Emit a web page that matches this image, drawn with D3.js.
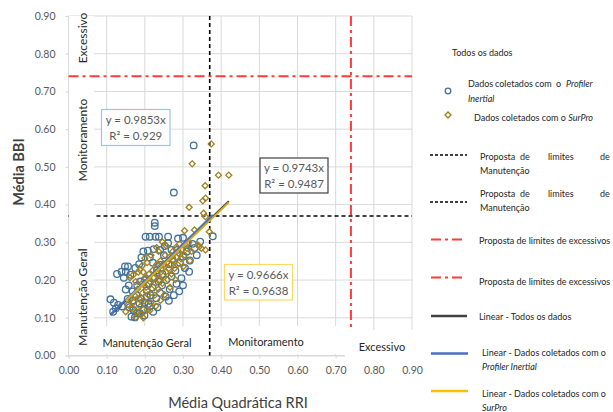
<!DOCTYPE html>
<html>
<head>
<meta charset="utf-8">
<script src="https://cdn.jsdelivr.net/npm/d3@7"></script>
<style>
  html, body { margin: 0; padding: 0; background: #fff; }
  svg { display: block; font-family: Lato, "Open Sans", sans-serif; }
</style>
</head>
<body>
<svg id="chart" width="613" height="412"></svg>
<script>
// Profiler Inertial measurements: RRI quadratic mean vs mean BBI
const profilerRRI = [0.110,0.119,0.130,0.117,0.124,0.140,0.155,0.165,0.174,0.180,0.170,0.160,0.187,0.196,0.213,0.200,0.190,0.178,0.168,0.150,0.158,0.210,0.215,0.205,0.220,0.230,0.240,0.245,0.255,0.256,0.265,0.270,0.283,0.280,0.290,0.292,0.296,0.300,0.305,0.310,0.318,0.325,0.330,0.336,0.345,0.378,0.148,0.156,0.139,0.127,0.150,0.162,0.145,0.175,0.185,0.191,0.196,0.208,0.213,0.221,0.223,0.202,0.213,0.228,0.237,0.226,0.226,0.261,0.287,0.261,0.250,0.240,0.232,0.262,0.272,0.276,0.328,0.300,0.312,0.200,0.188,0.226,0.236,0.246,0.180,0.210,0.222,0.233,0.199,0.263,0.276,0.300,0.316,0.168,0.186,0.205,0.240,0.252,0.270,0.285];
const profilerBBI = [0.149,0.140,0.134,0.116,0.125,0.130,0.150,0.103,0.101,0.112,0.121,0.128,0.112,0.120,0.130,0.140,0.150,0.160,0.170,0.175,0.186,0.137,0.160,0.172,0.180,0.152,0.166,0.186,0.156,0.200,0.176,0.210,0.190,0.225,0.170,0.246,0.205,0.262,0.232,0.276,0.252,0.296,0.285,0.266,0.302,0.316,0.236,0.236,0.222,0.216,0.222,0.214,0.206,0.232,0.242,0.260,0.276,0.278,0.260,0.246,0.282,0.315,0.315,0.315,0.315,0.352,0.343,0.315,0.310,0.298,0.266,0.240,0.226,0.242,0.256,0.432,0.557,0.312,0.296,0.200,0.196,0.206,0.196,0.216,0.186,0.190,0.116,0.128,0.106,0.145,0.160,0.186,0.222,0.146,0.138,0.156,0.280,0.290,0.280,0.280];

// SurPro measurements
const surproRRI = [0.150,0.156,0.162,0.166,0.171,0.173,0.178,0.181,0.185,0.188,0.191,0.194,0.198,0.201,0.203,0.206,0.208,0.211,0.213,0.216,0.218,0.221,0.223,0.226,0.228,0.231,0.233,0.236,0.238,0.241,0.243,0.246,0.248,0.250,0.253,0.255,0.258,0.260,0.263,0.265,0.268,0.270,0.273,0.275,0.278,0.281,0.283,0.286,0.288,0.291,0.295,0.298,0.301,0.305,0.310,0.304,0.315,0.318,0.322,0.330,0.339,0.343,0.348,0.359,0.369,0.354,0.359,0.316,0.352,0.359,0.358,0.374,0.324,0.393,0.420,0.161,0.170,0.187,0.193,0.200,0.216,0.231,0.246,0.256,0.236,0.206,0.176,0.183,0.196,0.176,0.191,0.213,0.229,0.241,0.196,0.252,0.266,0.280];
const surproBBI = [0.116,0.135,0.150,0.125,0.141,0.160,0.116,0.176,0.151,0.130,0.190,0.166,0.145,0.206,0.181,0.121,0.161,0.216,0.196,0.140,0.176,0.226,0.206,0.160,0.191,0.241,0.216,0.176,0.201,0.251,0.229,0.191,0.211,0.241,0.266,0.221,0.246,0.201,0.231,0.261,0.241,0.216,0.276,0.251,0.231,0.286,0.261,0.241,0.271,0.296,0.256,0.281,0.236,0.266,0.284,0.331,0.300,0.251,0.276,0.333,0.293,0.289,0.284,0.280,0.328,0.377,0.368,0.393,0.410,0.417,0.450,0.561,0.508,0.478,0.478,0.206,0.214,0.227,0.238,0.258,0.266,0.286,0.301,0.291,0.276,0.246,0.196,0.221,0.221,0.101,0.109,0.119,0.131,0.146,0.100,0.161,0.181,0.201];

// Linear fits through the origin (slope, R²)
const fitAll = {slope: 0.9743, r2: 0.9487};
const fitProfiler = {slope: 0.9853, r2: 0.929};
const fitSurPro = {slope: 0.9666, r2: 0.9638};

// Proposed thresholds
const maintenanceLimit = 0.37;
const excessiveLimit = 0.74;

const xTicks = [0, 0.1, 0.2, 0.3, 0.4, 0.5, 0.6, 0.7, 0.8, 0.9];
const yTicks = [0, 0.1, 0.2, 0.3, 0.4, 0.5, 0.6, 0.7, 0.8, 0.9];

const svg = d3.select("#chart");
const x = d3.scaleLinear().domain([0, 0.9]).range([68.5, 412]);
const y = d3.scaleLinear().domain([0, 0.9]).range([355.5, 16]);
const fmt = d3.format(".2f");

const gridColor = "#d9d9d9";
const blue = "#41719c";
const gold = "#a0801e";

// gridlines
const grid = svg.append("g");
grid.selectAll("line.v").data(xTicks).join("line")
  .attr("x1", d => x(d)).attr("x2", d => x(d))
  .attr("y1", y(0.9)).attr("y2", y(0))
  .attr("stroke", gridColor).attr("stroke-width", 1);
grid.selectAll("line.h").data(yTicks).join("line")
  .attr("x1", x(0)).attr("x2", x(0.9))
  .attr("y1", d => y(d)).attr("y2", d => y(d))
  .attr("stroke", gridColor).attr("stroke-width", 1);

// axes
const xAxis = svg.append("g").attr("transform", `translate(0,${y(0)})`)
  .call(d3.axisBottom(x).tickValues(xTicks).tickFormat(fmt).tickSize(3).tickPadding(8));
const yAxis = svg.append("g").attr("transform", `translate(${x(0)},0)`)
  .call(d3.axisLeft(y).tickValues(yTicks).tickFormat(fmt).tickSize(3).tickPadding(10));
[xAxis, yAxis].forEach(a => {
  a.select(".domain").attr("stroke", gridColor);
  a.selectAll(".tick line").attr("stroke", gridColor);
  a.selectAll(".tick text").attr("fill", "#595959")
    .style("font-size", "10.5px").style("font-family", "Lato, sans-serif");
});

// maintenance limits (black dashed)
svg.append("line")
  .attr("x1", x(0)).attr("x2", x(0.9))
  .attr("y1", y(maintenanceLimit)).attr("y2", y(maintenanceLimit))
  .attr("stroke", "#000").attr("stroke-width", 1.6).attr("stroke-dasharray", "4,3");
svg.append("line")
  .attr("x1", x(maintenanceLimit)).attr("x2", x(maintenanceLimit))
  .attr("y1", y(0.9)).attr("y2", y(0))
  .attr("stroke", "#000").attr("stroke-width", 1.6).attr("stroke-dasharray", "4,3");

// scatter: Profiler Inertial (circles)
const profiler = profilerRRI.map((v, i) => [v, profilerBBI[i]]);
const surpro = surproRRI.map((v, i) => [v, surproBBI[i]]);

svg.append("g").selectAll("circle").data(profiler).join("circle")
  .attr("cx", d => x(d[0])).attr("cy", d => y(d[1])).attr("r", 3.3)
  .attr("fill", "none").attr("stroke", blue).attr("stroke-width", 1.3);

// scatter: SurPro (diamonds)
const diamond = d3.symbol().type(d3.symbolSquare).size(18);
svg.append("g").selectAll("path").data(surpro).join("path")
  .attr("d", diamond)
  .attr("transform", d => `translate(${x(d[0])},${y(d[1])}) rotate(45)`)
  .attr("fill", "none").attr("stroke", gold).attr("stroke-width", 1.3);

// trend lines
function trend(data, fit, color, width) {
  const xs = d3.extent(data, d => d[0]);
  svg.append("line")
    .attr("x1", x(xs[0])).attr("y1", y(fit.slope * xs[0]))
    .attr("x2", x(xs[1])).attr("y2", y(fit.slope * xs[1]))
    .attr("stroke", color).attr("stroke-width", width);
}
trend(profiler.concat(surpro), fitAll, "#404040", 2);
trend(profiler, fitProfiler, "#4472c4", 2);
trend(surpro, fitSurPro, "#dcaa18", 2);

// white label panels over the plot
svg.append("rect").attr("x", 69).attr("y", 16).attr("width", 25).attr("height", 339).attr("fill", "#fff");
svg.append("rect").attr("x", 92).attr("y", 326).attr("width", 113).attr("height", 28).attr("fill", "#fff");
svg.append("rect").attr("x", 215).attr("y", 326).attr("width", 125).attr("height", 28).attr("fill", "#fff");
svg.append("rect").attr("x", 345).attr("y", 330).attr("width", 68).attr("height", 32).attr("fill", "#fff");

// excessive limits (red dash-dot)
svg.append("line")
  .attr("x1", x(0)).attr("x2", x(0.9))
  .attr("y1", y(excessiveLimit)).attr("y2", y(excessiveLimit))
  .attr("stroke", "#ff3b3b").attr("stroke-width", 2).attr("stroke-dasharray", "10,4,3,4");
svg.append("line")
  .attr("x1", x(excessiveLimit)).attr("x2", x(excessiveLimit))
  .attr("y1", y(0.9)).attr("y2", 330)
  .attr("stroke", "#ff3b3b").attr("stroke-width", 2).attr("stroke-dasharray", "10,4,3,4");

// zone labels
const zoneFont = "Lato, sans-serif";
function vLabel(text, cx, cy) {
  svg.append("text").attr("transform", `translate(${cx},${cy}) rotate(-90)`)
    .attr("text-anchor", "middle").attr("dominant-baseline", "central")
    .attr("fill", "#262626").style("font-size", "12px").style("font-family", zoneFont).text(text);
}
vLabel("Excessivo", 82, 38);
vLabel("Monitoramento", 82, 140);
vLabel("Manutenção Geral", 82, 297);
function hLabel(text, cx, cy) {
  svg.append("text").attr("x", cx).attr("y", cy)
    .attr("text-anchor", "middle").attr("dominant-baseline", "central")
    .attr("fill", "#262626").style("font-size", "11px").style("font-family", zoneFont).text(text);
}
hLabel("Manutenção Geral", 147, 342);
hLabel("Monitoramento", 266, 341);
hLabel("Excessivo", 382, 346);

// equation boxes
function eqBox(fit, bx, by, bw, bh, border) {
  svg.append("rect").attr("x", bx).attr("y", by).attr("width", bw).attr("height", bh)
    .attr("fill", "#fff").attr("stroke", border).attr("stroke-width", 1.2);
  const t = svg.append("text").attr("x", bx + bw / 2).attr("text-anchor", "middle")
    .attr("fill", "#595959").style("font-size", "11.5px").style("font-family", zoneFont);
  t.append("tspan").attr("x", bx + bw / 2).attr("y", by + 14).text(`y = ${fit.slope}x`);
  t.append("tspan").attr("x", bx + bw / 2).attr("y", by + 30).text(`R² = ${fit.r2}`);
}
eqBox(fitProfiler, 101.5, 109.5, 68.5, 36, "#9dc3e6");
eqBox(fitAll, 260, 158, 68, 35, "#404040");
eqBox(fitSurPro, 224.5, 264.5, 68, 35.5, "#ffd966");

// axis titles
svg.append("text").attr("x", 238).attr("y", 408).attr("text-anchor", "middle")
  .attr("fill", "#404040").style("font-size", "14.5px").style("font-family", zoneFont)
  .text("Média Quadrática RRI");
svg.append("text").attr("transform", "translate(24,172) rotate(-90)").attr("text-anchor", "middle")
  .attr("fill", "#404040").style("font-size", "14.5px").style("font-weight", "bold").style("font-family", zoneFont)
  .text("Média BBI");

// legend
const lg = svg.append("g").style("font-family", zoneFont).style("font-size", "9px").attr("fill", "#262626");
function lText(str, lx, ly, italic) {
  const t = lg.append("text").attr("x", lx).attr("y", ly).attr("dominant-baseline", "central").text(str);
  if (italic) t.style("font-style", "italic");
  return t;
}
// justified lines: each word placed on its own
function lWords(words, xs, ly, italicLast) {
  words.forEach((w, i) => lText(w, xs[i], ly, italicLast && i === words.length - 1));
}
lText("Todos os dados", 452, 52);

lg.append("circle").attr("cx", 448).attr("cy", 91).attr("r", 2.8)
  .attr("fill", "none").attr("stroke", blue).attr("stroke-width", 1.3);
lWords(["Dados", "coletados", "com", "o", "Profiler"], [468, 495, 535, 556, 566], 83, true);
lText("Inertial", 468, 98, true);

lg.append("path").attr("d", diamond).attr("transform", "translate(448,115) rotate(45)")
  .attr("fill", "none").attr("stroke", gold).attr("stroke-width", 1.3);
const sp = lText("Dados coletados com o ", 474, 117);
sp.append("tspan").style("font-style", "italic").text("SurPro");

function legendLine(ly, color, dash, width, x1, x2) {
  lg.append("line").attr("x1", x1).attr("x2", x2).attr("y1", ly).attr("y2", ly)
    .attr("stroke", color).attr("stroke-width", width).attr("stroke-dasharray", dash);
}
legendLine(155, "#000", "3,2", 1.5, 430, 467);
lWords(["Proposta", "de", "limites", "de"], [480, 520, 548, 600], 156);
lText("Manutenção", 480, 170);
legendLine(202, "#000", "3,2", 1.5, 430, 467);
lWords(["Proposta", "de", "limites", "de"], [480, 520, 548, 600], 193);
lText("Manutenção", 480, 207);

legendLine(239.5, "#ff3b3b", "10,4,3,4", 2, 431, 462);
lText("Proposta de limites de excessivos", 479, 240);
legendLine(277.5, "#ff3b3b", "10,4,3,4", 2, 431, 462);
lText("Proposta de limites de excessivos", 479, 281);

legendLine(316, "#404040", null, 2.5, 431, 467);
lText("Linear - Todos os dados", 479, 316);
legendLine(353.5, "#4472c4", null, 2.5, 431, 468);
lText("Linear - Dados coletados com o", 482, 352);
lText("Profiler Inertial", 482, 366, true);
legendLine(391, "#ffc000", null, 2.5, 431, 468);
lText("Linear - Dados coletados com o", 482, 393);
lText("SurPro", 482, 407, true);
</script>
</body>
</html>
